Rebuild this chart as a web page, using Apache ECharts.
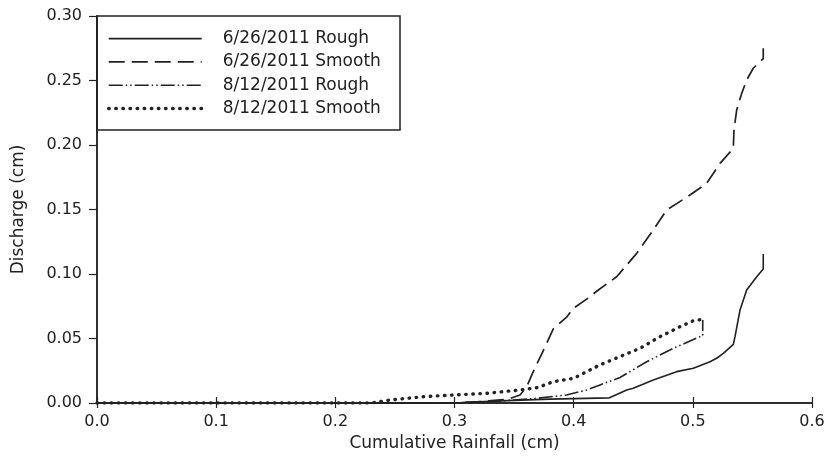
<!DOCTYPE html>
<html>
<head>
<meta charset="utf-8">
<script src="https://cdn.jsdelivr.net/npm/echarts@6/dist/echarts.min.js"></script>
<style>
  html, body { margin: 0; padding: 0; background: #fff; }
  #chart { width: 828px; height: 468px; }
</style>
</head>
<body>
<div id="chart"></div>
<script>
// Cumulative rainfall (cm) and discharge (cm) for each storm / surface
const seriesNames = ['6/26/2011 Rough', '6/26/2011 Smooth', '8/12/2011 Rough', '8/12/2011 Smooth'];

const roughJunRain = [0, 0.1, 0.2, 0.3, 0.32, 0.35, 0.38, 0.43, 0.4347, 0.4445, 0.450, 0.4668, 0.4864, 0.5004, 0.5144, 0.520, 0.5256, 0.534, 0.5354, 0.5396, 0.5452, 0.5536, 0.5591, 0.5591];
const roughJunFlow = [0, 0, 0, 0, 0.001, 0.002, 0.003, 0.004, 0.006, 0.0101, 0.0114, 0.0178, 0.0243, 0.0269, 0.032, 0.0347, 0.0385, 0.0455, 0.0514, 0.0721, 0.0876, 0.0979, 0.1039, 0.1155];

const smoothJunRain = [0, 0.1, 0.2, 0.3, 0.32, 0.345, 0.355, 0.3606, 0.3661, 0.3774, 0.3829, 0.3941, 0.3997, 0.4109, 0.4207, 0.4361, 0.4529, 0.4668, 0.478, 0.4976, 0.5116, 0.5228, 0.534, 0.5345, 0.5368, 0.541, 0.5452, 0.5507, 0.5591, 0.5591];
const smoothJunFlow = [0, 0, 0, 0, 0.001, 0.003, 0.0062, 0.0126, 0.0243, 0.0463, 0.0575, 0.0665, 0.0734, 0.0805, 0.0876, 0.0979, 0.116, 0.1341, 0.1496, 0.1612, 0.1703, 0.1858, 0.1974, 0.2116, 0.2271, 0.240, 0.2504, 0.2595, 0.267, 0.275];

const roughAugRain = [0, 0.1, 0.2, 0.3, 0.33, 0.3493, 0.369, 0.394, 0.411, 0.4221, 0.4389, 0.4613, 0.4836, 0.506, 0.5083, 0.5083];
const roughAugFlow = [0, 0, 0, 0, 0.001, 0.0023, 0.0036, 0.0062, 0.0101, 0.014, 0.0198, 0.032, 0.0424, 0.0514, 0.052, 0.0643];

const smoothAugRain = [0, 0.1, 0.2, 0.23, 0.246, 0.274, 0.299, 0.327, 0.355, 0.37, 0.3829, 0.3997, 0.411, 0.4221, 0.4389, 0.4557, 0.4724, 0.4892, 0.5004, 0.506];
const smoothAugFlow = [0, 0, 0, 0, 0.0023, 0.0049, 0.0062, 0.0075, 0.0101, 0.012, 0.0165, 0.0191, 0.0243, 0.0295, 0.036, 0.0424, 0.0514, 0.0591, 0.0638, 0.0645];

const xTicks = { min: 0, max: 0.6, step: 0.1 };
const yTicks = { min: 0, max: 0.30, step: 0.05 };

const pair = (xs, ys) => xs.map((x, i) => [x, ys[i]]);

const ink = '#222';
const font = 'DejaVu Sans';

const lineStyles = [
  { width: 1.6, type: 'solid' },
  { width: 1.7, type: [16, 7] },
  { width: 1.6, type: [14, 3, 1.5, 3, 1.5, 3] },
  { width: 3.4, type: [0.5, 6.6], cap: 'round' }
];

const dataSets = [
  pair(roughJunRain, roughJunFlow),
  pair(smoothJunRain, smoothJunFlow),
  pair(roughAugRain, roughAugFlow),
  pair(smoothAugRain, smoothAugFlow)
];

const chart = echarts.init(document.getElementById('chart'), null, { renderer: 'canvas' });

chart.setOption({
  animation: false,
  backgroundColor: '#fff',
  grid: { left: 97, top: 16, right: 16, bottom: 65, show: false },
  graphic: [{
    type: 'rect',
    z: 5,
    shape: { x: 97, y: 16, width: 303, height: 114 },
    style: { fill: null, stroke: ink, lineWidth: 1.5 }
  }],
  legend: {
    orient: 'vertical',
    left: 107,
    top: 27,
    padding: 0,
    itemGap: 0,
    itemWidth: 93,
    itemHeight: 14,
    data: seriesNames,
    selectedMode: false,
    // line samples only, no marker in the middle
    itemStyle: { opacity: 0 },
    lineStyle: { width: 'inherit', type: 'inherit', cap: 'inherit' },
    textStyle: { fontFamily: font, fontSize: 17, color: ink, lineHeight: 23.3, padding: [0, 0, 0, 16] }
  },
  xAxis: [{
    type: 'value',
    min: xTicks.min, max: xTicks.max, interval: xTicks.step,
    name: 'Cumulative Rainfall (cm)',
    nameLocation: 'middle',
    nameGap: 28,
    nameTextStyle: { fontFamily: font, fontSize: 17, color: ink },
    axisLine: { show: true, lineStyle: { color: ink, width: 1.5 } },
    axisTick: { show: true, inside: true, length: 6, lineStyle: { color: ink, width: 1.2 } },
    axisLabel: { fontFamily: font, fontSize: 16, color: ink, margin: 11, formatter: v => v.toFixed(1) },
    splitLine: { show: false }
  }, {
    type: 'value',
    position: 'top',
    min: xTicks.min, max: xTicks.max, interval: xTicks.step,
    axisLine: { show: true, lineStyle: { color: ink, width: 1.5 } },
    axisTick: { show: true, inside: true, length: 5, lineStyle: { color: ink, width: 1.2 } },
    axisLabel: { show: false },
    splitLine: { show: false }
  }],
  yAxis: [{
    type: 'value',
    min: yTicks.min, max: yTicks.max, interval: yTicks.step,
    name: 'Discharge (cm)',
    nameLocation: 'middle',
    nameGap: 70,
    nameTextStyle: { fontFamily: font, fontSize: 17, color: ink },
    axisLine: { show: true, lineStyle: { color: ink, width: 1.5 } },
    axisTick: { show: true, inside: false, length: 8, lineStyle: { color: ink, width: 1.2 } },
    axisLabel: { fontFamily: font, fontSize: 16, color: ink, margin: 15, formatter: v => v.toFixed(2) },
    splitLine: { show: false }
  }, {
    type: 'value',
    position: 'right',
    min: yTicks.min, max: yTicks.max, interval: yTicks.step,
    axisLine: { show: true, lineStyle: { color: ink, width: 1.5 } },
    axisTick: { show: false },
    axisLabel: { show: false },
    splitLine: { show: false }
  }],
  series: seriesNames.map((name, i) => ({
    name,
    type: 'line',
    xAxisIndex: 0,
    yAxisIndex: 0,
    data: dataSets[i],
    symbol: 'none',
    smooth: false,
    color: ink,
    lineStyle: Object.assign({ color: ink }, lineStyles[i])
  }))
});
</script>
</body>
</html>
